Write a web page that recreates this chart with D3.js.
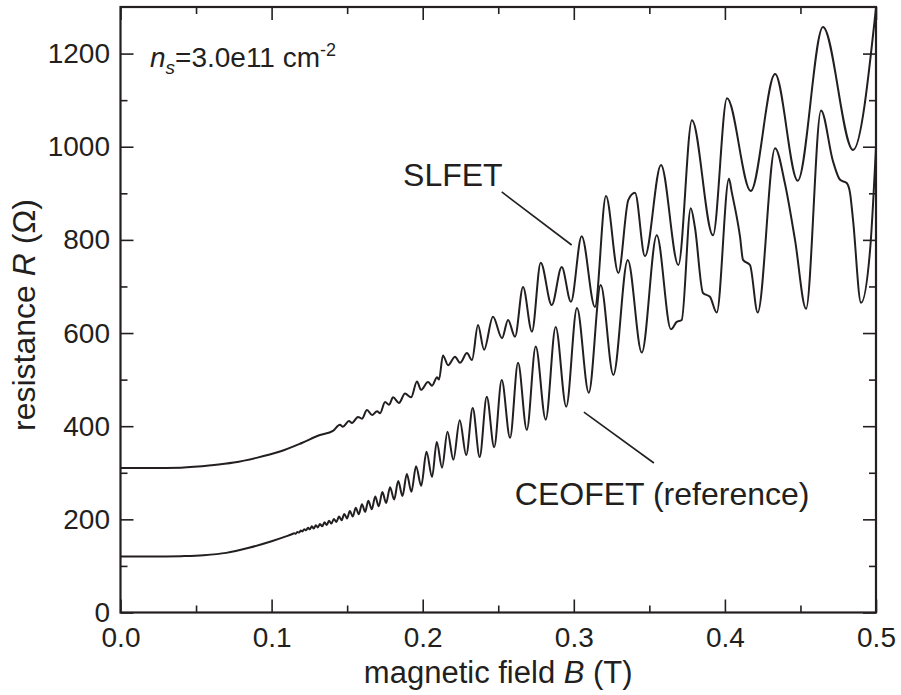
<!DOCTYPE html>
<html>
<head>
<meta charset="utf-8">
<script src="https://cdn.jsdelivr.net/npm/d3@7"></script>
<style>
  html, body { margin: 0; padding: 0; background: #fff; }
  svg text { font-family: "Liberation Sans", Arial, Helvetica, sans-serif; fill: #231f20; }
</style>
</head>
<body>
<svg id="chart" width="901" height="695"></svg>
<script>
// Magnetoresistance traces, field in tesla, resistance in ohm
const fieldSL = [0, 0.02, 0.04, 0.06, 0.075, 0.09, 0.105, 0.12, 0.132, 0.1406,
  0.1452, 0.1472, 0.1512, 0.1532, 0.1572, 0.1598, 0.1631, 0.1665, 0.1698, 0.1718,
  0.1751, 0.1777, 0.1804, 0.1843, 0.1883, 0.1923, 0.1962, 0.1989, 0.2035, 0.2062,
  0.2095, 0.2108, 0.2134, 0.2168, 0.2214, 0.2247, 0.2293, 0.2326, 0.2366, 0.2406,
  0.2465, 0.2525, 0.2565, 0.2611, 0.2664, 0.2723, 0.2781, 0.2854, 0.2920, 0.2981,
  0.3052, 0.3140, 0.3213, 0.3295, 0.3361, 0.3405, 0.3471, 0.3577, 0.3692, 0.3782,
  0.3921, 0.4014, 0.4171, 0.4332, 0.4482, 0.4649, 0.4848, 0.5000];
const resSL = [310, 310, 311, 316, 322, 332, 345, 364, 381, 390,
  403, 399, 411, 407, 420, 416, 435, 424, 432, 428,
  452, 446, 462, 450, 470, 462, 496, 478, 495, 487,
  505, 500, 552, 531, 549, 536, 557, 542, 617, 564,
  635, 589, 628, 592, 699, 603, 751, 660, 742, 667,
  808, 656, 894, 729, 886, 901, 765, 961, 746, 1057,
  810, 1104, 905, 1156, 927, 1257, 993, 1298];

const fieldCEO = [0, 0.02, 0.04, 0.055, 0.07, 0.085, 0.10, 0.11, 0.113,
  0.1150, 0.1160, 0.1171, 0.1182, 0.1193, 0.1204, 0.1216, 0.1228, 0.1241, 0.1253,
  0.1266, 0.1279, 0.1293, 0.1306, 0.1320, 0.1335, 0.1350, 0.1365, 0.1380, 0.1396,
  0.1412, 0.1429, 0.1446, 0.1463, 0.1481, 0.1499, 0.1518, 0.1537, 0.1557, 0.1577,
  0.1598, 0.1619, 0.1640, 0.1663, 0.1686, 0.1709, 0.1733, 0.1758, 0.1784, 0.1811,
  0.1838, 0.1866, 0.1895, 0.1925, 0.1956, 0.1990, 0.2025, 0.2062, 0.2093, 0.2128,
  0.2164, 0.2203, 0.2245, 0.2288, 0.2331, 0.2377, 0.2424, 0.2473, 0.2523, 0.2578,
  0.2631, 0.2689, 0.2748, 0.2814, 0.2880, 0.2950, 0.3021, 0.3099, 0.3178, 0.3262,
  0.3357, 0.3450, 0.3549, 0.3643, 0.3681, 0.3714, 0.3774, 0.3802, 0.3855, 0.3901,
  0.3946, 0.4027, 0.4045, 0.4100, 0.4120, 0.4166, 0.4217, 0.4332, 0.4398, 0.4464,
  0.4537, 0.4636, 0.4716, 0.4762, 0.4806, 0.4828, 0.4848, 0.4901, 0.4961, 0.5000];
const resCEO = [120, 120, 121, 123, 128, 139, 153, 164, 167.5,
  170, 169, 173, 171.5, 176, 174, 179, 176.5, 182, 178.5,
  185, 180.5, 187.5, 182.5, 190, 185, 193.5, 188, 197, 191,
  201, 194.5, 206, 198, 211.5, 202, 218, 206, 225, 211,
  232.5, 216, 240, 221.5, 249, 228, 258.5, 235, 269, 242.5,
  282.5, 250, 297.5, 259, 314, 272, 345, 291, 366, 311,
  388, 328, 413, 338, 439, 334, 463, 355, 499, 375,
  536, 392, 571, 414, 613, 442, 654, 472, 703, 510,
  757, 558, 810, 608, 624, 628, 868, 826, 686, 678,
  644, 931, 903, 807, 757, 746, 644, 997, 920, 800,
  652, 1078, 968, 929, 922, 901, 843, 665, 779, 1000];

const xMajor = [0, 0.1, 0.2, 0.3, 0.4, 0.5];
const xMinor = [0.05, 0.15, 0.25, 0.35, 0.45];
const yMajor = [0, 200, 400, 600, 800, 1000, 1200];
const yMinor = [100, 300, 500, 700, 900, 1100];

const ink = "#231f20";
const frame = { left: 120.5, right: 876, top: 7, bottom: 612.5 };

const svg = d3.select("#chart");
const x = d3.scaleLinear().domain([0, 0.5]).range([frame.left, frame.right]);
const y = d3.scaleLinear().domain([0, 1300]).range([frame.bottom, frame.top]);

svg.append("defs").append("clipPath").attr("id", "plotClip")
  .append("rect")
  .attr("x", frame.left).attr("y", frame.top)
  .attr("width", frame.right - frame.left).attr("height", frame.bottom - frame.top);

// traces
const line = d3.line().x(d => x(d[0])).y(d => y(d[1])).curve(d3.curveMonotoneX);
const traces = [
  fieldSL.map((b, i) => [b, resSL[i]]),
  fieldCEO.map((b, i) => [b, resCEO[i]])
];
svg.append("g").attr("clip-path", "url(#plotClip)")
  .selectAll("path").data(traces).join("path")
  .attr("d", line)
  .attr("fill", "none")
  .attr("stroke", ink)
  .attr("stroke-width", 2)
  .attr("stroke-linejoin", "round");

// axes: inward ticks on all four sides
function styleAxis(g) {
  g.select(".domain").remove();
  g.selectAll(".tick line").attr("stroke", ink).attr("stroke-width", 1.6);
  g.selectAll(".tick text").attr("fill", ink).attr("font-size", 28)
    .attr("font-family", '"Liberation Sans", Arial, Helvetica, sans-serif');
}

svg.append("g").attr("transform", `translate(0,${frame.bottom})`)
  .call(d3.axisBottom(x).tickValues(xMajor).tickFormat(d3.format(".1f"))
    .tickSizeInner(-13).tickSizeOuter(0).tickPadding(14.5))
  .call(styleAxis);
svg.append("g").attr("transform", `translate(0,${frame.bottom})`)
  .call(d3.axisBottom(x).tickValues(xMinor).tickFormat("").tickSizeInner(-7).tickSizeOuter(0))
  .call(styleAxis);
svg.append("g").attr("transform", `translate(0,${frame.top})`)
  .call(d3.axisTop(x).tickValues(xMajor).tickFormat("").tickSizeInner(-13).tickSizeOuter(0))
  .call(styleAxis);
svg.append("g").attr("transform", `translate(0,${frame.top})`)
  .call(d3.axisTop(x).tickValues(xMinor).tickFormat("").tickSizeInner(-7).tickSizeOuter(0))
  .call(styleAxis);

svg.append("g").attr("transform", `translate(${frame.left},0)`)
  .call(d3.axisLeft(y).tickValues(yMajor).tickFormat(d3.format("d"))
    .tickSizeInner(-13).tickSizeOuter(0).tickPadding(10.5))
  .call(styleAxis);
svg.append("g").attr("transform", `translate(${frame.left},0)`)
  .call(d3.axisLeft(y).tickValues(yMinor).tickFormat("").tickSizeInner(-7).tickSizeOuter(0))
  .call(styleAxis);
svg.append("g").attr("transform", `translate(${frame.right},0)`)
  .call(d3.axisRight(y).tickValues(yMajor).tickFormat("").tickSizeInner(-13).tickSizeOuter(0))
  .call(styleAxis);
svg.append("g").attr("transform", `translate(${frame.right},0)`)
  .call(d3.axisRight(y).tickValues(yMinor).tickFormat("").tickSizeInner(-7).tickSizeOuter(0))
  .call(styleAxis);

// frame
svg.append("rect")
  .attr("x", frame.left).attr("y", frame.top)
  .attr("width", frame.right - frame.left).attr("height", frame.bottom - frame.top)
  .attr("fill", "none").attr("stroke", ink).attr("stroke-width", 2.2);

// axis titles
const xTitle = svg.append("text")
  .attr("x", (frame.left + frame.right) / 2).attr("y", 683)
  .attr("text-anchor", "middle").attr("font-size", 31);
xTitle.append("tspan").text("magnetic field ");
xTitle.append("tspan").attr("font-style", "italic").text("B");
xTitle.append("tspan").text(" (T)");

const yTitle = svg.append("text")
  .attr("transform", "translate(35,315) rotate(-90)")
  .attr("text-anchor", "middle").attr("font-size", 32);
yTitle.append("tspan").text("resistance ");
yTitle.append("tspan").attr("font-style", "italic").text("R");
yTitle.append("tspan").text(" (\u03A9)");

// carrier density note
const note = svg.append("text")
  .attr("x", x(0.0195)).attr("y", y(1171)).attr("font-size", 28);
note.append("tspan").attr("font-style", "italic").text("n");
note.append("tspan").attr("font-style", "italic").attr("font-size", 19).attr("dy", 7).text("s");
note.append("tspan").attr("dy", -7).text("=3.0e11 cm");
note.append("tspan").attr("font-size", 18).attr("dy", -11).text("-2");

// trace labels with leader lines
const labels = [
  { text: "SLFET", at: [0.1870, 916], from: [0.2523, 903], to: [0.2986, 789] },
  { text: "CEOFET (reference)", at: [0.2610, 231], from: [0.3067, 430], to: [0.3530, 321] }
];
labels.forEach(l => {
  svg.append("text").attr("x", x(l.at[0])).attr("y", y(l.at[1]))
    .attr("font-size", 32).text(l.text);
  svg.append("line")
    .attr("x1", x(l.from[0])).attr("y1", y(l.from[1]))
    .attr("x2", x(l.to[0])).attr("y2", y(l.to[1]))
    .attr("stroke", ink).attr("stroke-width", 1.6);
});
</script>
</body>
</html>
